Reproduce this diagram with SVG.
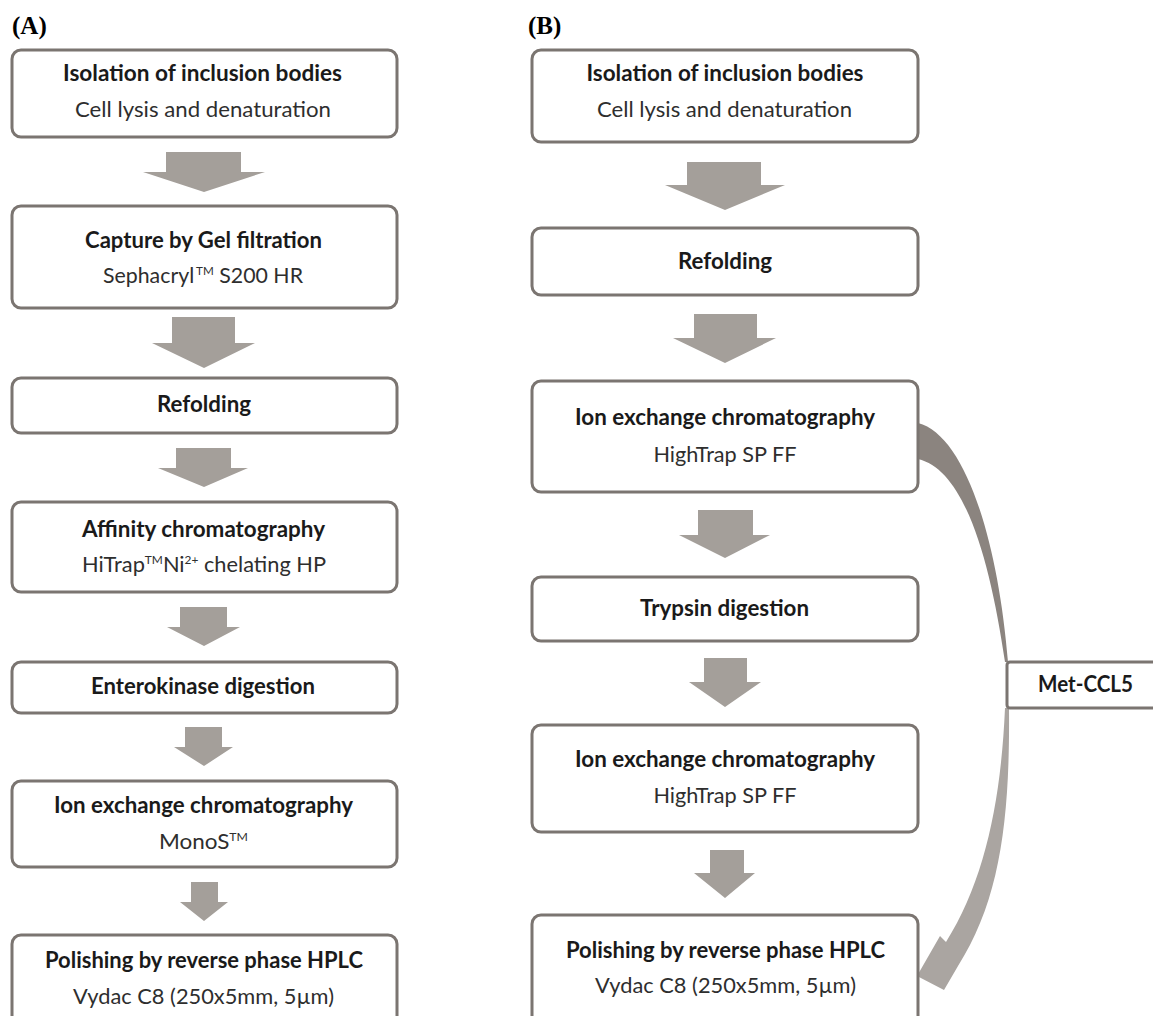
<svg xmlns="http://www.w3.org/2000/svg" width="1153" height="1016" viewBox="0 0 1153 1016">
<style>
.box{fill:#ffffff;stroke:#7b7571;stroke-width:3}
.blk{fill:#a49f9a}
.t{font-family:Lato,"Open Sans","Liberation Sans",sans-serif;font-size:22px;fill:#1a1a1a;text-anchor:middle}
.b{font-weight:bold}
.n{font-weight:normal;fill:#2e2e2e}
.lab{font-family:"Liberation Serif","Times New Roman",serif;font-weight:bold;font-size:25px;fill:#000}
.sup{font-size:12px}
</style>
<rect x="0" y="0" width="1153" height="1016" fill="#ffffff"/>
<text class="lab" x="12" y="34">(A)</text>
<text class="lab" x="528" y="34">(B)</text>

<g id="connectors">
  <polygon class="blk" points="166,152 241,152 241,172 265,172 204,192 143,172 166,172"/>
  <polygon class="blk" points="172,317 235,317 235,343 255,343 204,368 152,343 172,343"/>
  <polygon class="blk" points="176,448 231,448 231,468 248,468 204,487 158,468 176,468"/>
  <polygon class="blk" points="180,607 227,607 227,627 240,627 204,646 167,627 180,627"/>
  <polygon class="blk" points="185,727 222,727 222,747 233,747 204,766 174,747 185,747"/>
  <polygon class="blk" points="191,882 218,882 218,902 228,902 204,921 180,902 191,902"/>
  <polygon class="blk" points="687,162 761,162 761,185 785,185 725,210 665,185 687,185"/>
  <polygon class="blk" points="694,314 757,314 757,338 776,338 725,363 673,338 694,338"/>
  <polygon class="blk" points="698,510 753,510 753,535 770,535 725,558 679,535 698,535"/>
  <polygon class="blk" points="704,658 747,658 747,682 761,682 725,707 689,682 704,682"/>
  <polygon class="blk" points="710,850 744,850 744,873 755,873 725,898 694,873 710,873"/>
  <path d="M 918 423 C 965 435, 998 540, 1008 662 L 1005 662 C 990 560, 965 470, 918 459 Z" fill="#8b847f"/>
  <path d="M 1005 708 C 1001 800, 985 880, 946 942 L 940 936 L 917 976 L 944 990 L 958 966 C 1000 900, 1010 820, 1009 708 Z" fill="#aaa5a1"/>
</g>

<g id="a1"><rect class="box" x="12" y="50" width="385" height="87" rx="9"/>
<text class="t b" x="202.5" y="81" textLength="279" lengthAdjust="spacingAndGlyphs">Isolation of inclusion bodies</text>
<text class="t n" x="203" y="117" textLength="256" lengthAdjust="spacingAndGlyphs">Cell lysis and denaturation</text></g>

<g id="a2"><rect class="box" x="12" y="206" width="385" height="102" rx="9"/>
<text class="t b" x="203.5" y="248" textLength="237" lengthAdjust="spacingAndGlyphs">Capture by Gel filtration</text>
<text class="t n" x="203" y="283" textLength="200" lengthAdjust="spacingAndGlyphs">Sephacryl<tspan class="sup" dx="2" dy="-8">TM</tspan><tspan dy="8"> S200 HR</tspan></text></g>

<g id="a3"><rect class="box" x="12" y="378" width="385" height="55" rx="9"/>
<text class="t b" x="204" y="412" textLength="94" lengthAdjust="spacingAndGlyphs">Refolding</text></g>

<g id="a4"><rect class="box" x="12" y="502" width="385" height="90" rx="9"/>
<text class="t b" x="203.5" y="537" textLength="243" lengthAdjust="spacingAndGlyphs">Affinity chromatography</text>
<text class="t n" x="204" y="572" textLength="244" lengthAdjust="spacingAndGlyphs">HiTrap<tspan class="sup" dy="-8">TM</tspan><tspan dy="8">Ni</tspan><tspan class="sup" dy="-8">2+</tspan><tspan dy="8"> chelating HP</tspan></text></g>

<g id="a5"><rect class="box" x="12" y="662" width="385" height="51" rx="9"/>
<text class="t b" x="203" y="694" textLength="224" lengthAdjust="spacingAndGlyphs">Enterokinase digestion</text></g>

<g id="a6"><rect class="box" x="12" y="781" width="385" height="86" rx="9"/>
<text class="t b" x="203.5" y="813" textLength="299" lengthAdjust="spacingAndGlyphs">Ion exchange chromatography</text>
<text class="t n" x="203.5" y="849" textLength="89" lengthAdjust="spacingAndGlyphs">MonoS<tspan class="sup" dy="-8">TM</tspan></text></g>

<g id="a7"><rect class="box" x="12" y="935" width="385" height="100" rx="9"/>
<text class="t b" x="204" y="968" textLength="318" lengthAdjust="spacingAndGlyphs">Polishing by reverse phase HPLC</text>
<text class="t n" x="203.5" y="1004" textLength="261" lengthAdjust="spacingAndGlyphs">Vydac C8 (250x5mm, 5µm)</text></g>

<g id="b1"><rect class="box" x="532" y="50" width="386" height="92" rx="9"/>
<text class="t b" x="725" y="81" textLength="277" lengthAdjust="spacingAndGlyphs">Isolation of inclusion bodies</text>
<text class="t n" x="724.5" y="117" textLength="255" lengthAdjust="spacingAndGlyphs">Cell lysis and denaturation</text></g>

<g id="b2"><rect class="box" x="532" y="228" width="386" height="67" rx="9"/>
<text class="t b" x="725" y="269" textLength="94" lengthAdjust="spacingAndGlyphs">Refolding</text></g>

<g id="b3"><rect class="box" x="532" y="381" width="386" height="111" rx="9"/>
<text class="t b" x="725" y="425" textLength="300" lengthAdjust="spacingAndGlyphs">Ion exchange chromatography</text>
<text class="t n" x="725" y="462" textLength="143" lengthAdjust="spacingAndGlyphs">HighTrap SP FF</text></g>

<g id="b4"><rect class="box" x="532" y="577" width="386" height="64" rx="9"/>
<text class="t b" x="724.5" y="616" textLength="169" lengthAdjust="spacingAndGlyphs">Trypsin digestion</text></g>

<g id="b5"><rect class="box" x="532" y="725" width="386" height="107" rx="9"/>
<text class="t b" x="725" y="767" textLength="300" lengthAdjust="spacingAndGlyphs">Ion exchange chromatography</text>
<text class="t n" x="725" y="803" textLength="143" lengthAdjust="spacingAndGlyphs">HighTrap SP FF</text></g>

<g id="b6"><rect class="box" x="532" y="915" width="386" height="120" rx="9"/>
<text class="t b" x="725.5" y="958" textLength="319" lengthAdjust="spacingAndGlyphs">Polishing by reverse phase HPLC</text>
<text class="t n" x="725.5" y="993" textLength="261" lengthAdjust="spacingAndGlyphs">Vydac C8 (250x5mm, 5µm)</text></g>

<g id="met"><rect class="box" x="1007" y="662" width="170" height="46" rx="3"/>
<text class="t b" x="1085.5" y="692" textLength="95" lengthAdjust="spacingAndGlyphs">Met-CCL5</text></g>
</svg>
